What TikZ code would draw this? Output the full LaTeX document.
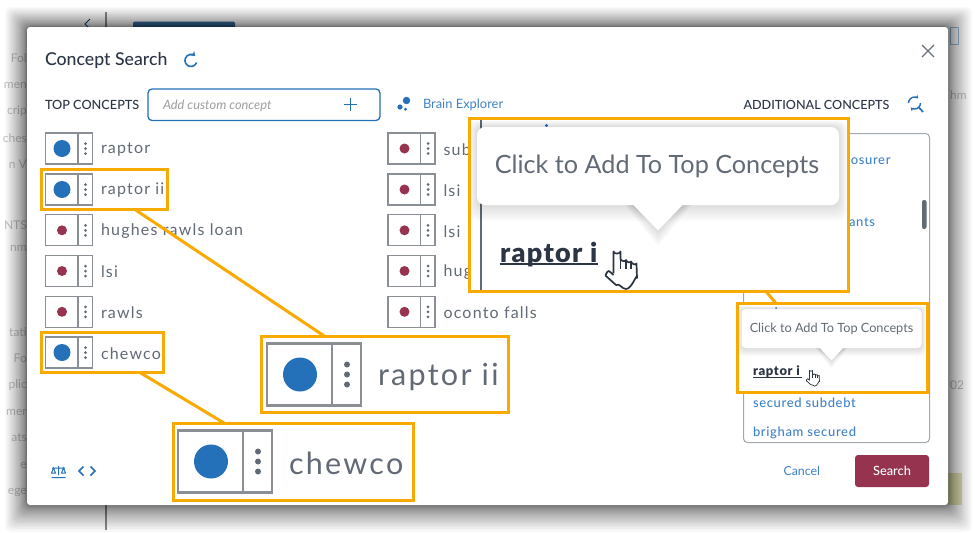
\documentclass[tikz,border=0pt]{standalone}
\usepackage{fontspec}
\setmainfont{Lato}
\newfontfamily\lblfont[LetterSpace=7.5]{Lato}
\newfontfamily\lnkfont[LetterSpace=5]{Lato Medium}
\newfontfamily\medfont{Lato Medium}
\usetikzlibrary{calc,arrows.meta}
\definecolor{cblue}{HTML}{2470B9}
\definecolor{cred}{HTML}{963450}
\definecolor{corange}{HTML}{F9AA00}
\definecolor{ctext}{HTML}{2B3544}
\definecolor{clabel}{HTML}{626A75}
\definecolor{cgrid}{HTML}{A2A8B0}
\definecolor{clink}{HTML}{3F82C6}
\tikzset{
  hlbox/.style={draw=corange,line width=3pt,inner sep=0pt,outer sep=0pt},
  hlline/.style={draw=corange,line width=3pt},
  txt/.style={inner sep=0pt,outer sep=0pt,anchor=west,text=#1},
  txt/.default=ctext,
  bgtxt/.style={inner sep=0pt,anchor=west,text=black!24,font=\fontsize{12}{14}\selectfont},
  iconline/.style={draw=cblue,line width=1.4pt}
}
% \chip{name}{left}{ycentre}{scale}{colour}{radius}{size}{text}
\newcommand{\chip}[8]{%
 \begin{scope}[shift={(#2,#3)},scale=#4]
  \draw[cgrid!85!black,line width={1.1pt*#4},fill=white] (0,-15.5) rectangle (47,15.5);
  \draw[cgrid!85!black,line width={1.1pt*#4}] (32.5,-15.5) -- (32.5,15.5);
  \fill[#5] (16.5,0) circle (#6);
  \foreach \d in {-5,0,5} \fill[clabel] (40,\d) circle (1.5);
  \node[txt=clabel,font={\lblfont\fontsize{#7}{#7}\selectfont},yshift={-1pt*#4}] (#1) at (55.5,0) {#8};
 \end{scope}}
% \bubble{cx}{top}{halfwidth}{height}{tri}{steps}
\newcommand{\bubble}[6]{%
  \foreach \i in {1,...,8}{
   \fill[black,opacity=.016,rounded corners=#6pt] ({#1-#3-\i*#6/8},{#2-\i*#6/10}) rectangle ({#1+#3+\i*#6/8},{#2+#4+\i*#6/4});
   \fill[black,opacity=.016] ({#1-#5-\i*#6/8},{#2+#4}) -- ({#1},{#2+#4+#5+\i*#6/4}) -- ({#1+#5+\i*#6/8},{#2+#4}) -- cycle;
  }
  \fill[white,rounded corners=#6pt] (#1-#3,#2) rectangle (#1+#3,#2+#4);
  \fill[white] (#1-#5,#2+#4-1) -- (#1,#2+#4+#5) -- (#1+#5,#2+#4-1) -- cycle;
}
% \hand{x}{y}{scale}
\newcommand{\hand}[3]{%
 \begin{scope}[shift={(#1,#2)},scale=#3]
  \draw[fill=white,draw=ctext,line width={1.7pt*#3},line join=round]
   (8.5,25) -- (8.5,3.5) to[out=-90,in=-90] (15.5,3.5) -- (15.5,11)
   to[out=-80,in=-100] (21,12) to[out=-80,in=-100] (26,13.5) to[out=-80,in=-110] (31.5,15.5)
   -- (32,30) to[out=90,in=0] (21,41) to[out=180,in=30] (11,37) -- (1,28)
   to[out=-130,in=-200] (4,23) -- (8.5,27);
  \draw[ctext,line width={1.3pt*#3}] (15.5,11) -- (15.5,21) (21,12) -- (21,21) (26,13.5) -- (26,21);
 \end{scope}}
\begin{document}
\begin{tikzpicture}[x=1pt,y=-1pt]
\useasboundingbox (0,0) rectangle (975,533);
\fill[white] (0,0) rectangle (975,533);
% page behind the dialog
\foreach \t/\y in {Fol/58,men/85,crip/111,ches/138,n V/164,NTS/225,nm/248,tati/332,Fo/358,plic/385,mer/412,ats/438,e/465,ege/492}
  \node[bgtxt,anchor=east] at (27,\y) {\t};
\node[bgtxt] at (950,95) {hm};
\node[bgtxt] at (950,385) {02};
\fill[cblue!80!black!85] (133,21.5) [rounded corners=2pt] rectangle (235,30);
\draw[black!45,line width=2pt] (106,12) -- (106,28) (106,505) -- (106,530);
\draw[cblue!70!black,line width=1pt] (90,19) -- (85,24) -- (90,29);
\draw[cblue!45,line width=1pt] (950,27) rectangle (958,44);
\fill[olive!22] (948,473) rectangle (962,505);
% dialog shadow
\foreach \i in {1,...,36}
  \fill[black,opacity=.024,rounded corners=6pt]
   ({27-22*pow(\i/36,2.2)},{27-20*pow(\i/36,2.2)}) rectangle ({948+24*pow(\i/36,2.2)},{505+27*pow(\i/36,2.2)});
% dialog
\fill[white,rounded corners=3pt] (27,27) rectangle (948,505);
% header
\node[txt,font={\medfont\fontsize{17.7}{20}\selectfont}] (title) at (45,60.5) {Concept Search};
\draw[iconline,line width=1.6pt,-{Stealth[length=4.5pt,width=6pt]}] ({191+5.6},{60.5+2}) arc[start angle=20,end angle=315,radius=6];
\draw[ctext!70,line width=1.3pt] (922,45) -- (934,57) (934,45) -- (922,57);
\node[txt,font={\medfont\fontsize{12.7}{14}\selectfont}] (top) at (45,105) {TOP CONCEPTS};
\draw[cblue,line width=1.3pt,rounded corners=4pt] (148,89) rectangle (380,120.5);
\node[txt=black!38,font={\itshape\fontsize{12.8}{14}\selectfont}] (add) at (163,105.5) {Add custom concept};
\draw[cblue,line width=1.4pt] (344,104.5) -- (356.5,104.5) (350.2,98) -- (350.2,111);
\fill[cblue] (400,107) circle (2.6) (406.5,100.5) circle (3.7) (405.5,109.3) circle (1.6);
\node[txt=clink,font={\fontsize{12.9}{14}\selectfont}] (brain) at (423,105) {Brain Explorer};
\node[txt,font={\medfont\fontsize{12.6}{14}\selectfont}] (addl) at (743.5,105) {ADDITIONAL CONCEPTS};
% additional-concepts refresh icon
\draw[iconline,-{Stealth[length=3.5pt,width=4.5pt]}] (908.5,103) arc[start angle=180,end angle=310,radius=6];
\draw[iconline,-{Stealth[length=3.5pt,width=4.5pt]}] (920.5,103) arc[start angle=0,end angle=130,radius=6];
\draw[iconline,line width=1.7pt] (919,107.5) -- (923,112);
% left list
\chip{r1}{45.5}{148.5}{1}{cblue}{8.5}{16}{raptor}
\chip{r2}{45.5}{189.5}{1}{cblue}{8.5}{16}{raptor ii}
\chip{r3}{45.5}{230.3}{1}{cred}{5}{16}{hughes rawls loan}
\chip{r4}{45.5}{271}{1}{cred}{5}{16}{lsi}
\chip{r5}{45.5}{311.8}{1}{cred}{5}{16}{rawls}
\chip{r6}{45.5}{352.5}{1}{cblue}{8.5}{16}{chewco}
% right list
\chip{s1}{388}{148.5}{1}{cred}{5}{16}{sub}
\chip{s2}{388}{189.5}{1}{cred}{5}{16}{lsi}
\chip{s3}{388}{230.3}{1}{cred}{5}{16}{lsi}
\chip{s4}{388}{271}{1}{cred}{5}{16}{hug}
\chip{s5}{388}{311.8}{1}{cred}{5}{16}{oconto falls}
% additional panel
\draw[cgrid,line width=1pt,rounded corners=4pt] (743.5,133.5) rectangle (929.5,442.5);
\fill[clabel,rounded corners=2pt] (922,200) rectangle (926.5,229);
\node[txt=clink,font={\lnkfont\fontsize{13}{14}\selectfont},anchor=east] (a1) at (890.5,161.5) {osurer};
\node[txt=clink,font={\lnkfont\fontsize{13}{14}\selectfont},anchor=east] (a2) at (875,222) {ants};
\node[txt=clink,font={\lnkfont\fontsize{13}{14}\selectfont}] (a3) at (753,402.5) {secured subdebt};
\node[txt=clink,font={\lnkfont\fontsize{13}{14}\selectfont}] (a4) at (753,432.5) {brigham secured};
% footer
\draw[cblue,line width=1pt] (51.5,477.5) -- (65.5,477.5) (58.5,466) -- (58.5,475) (52,468) -- (65,468)
  (53.5,468) -- (51.5,473) -- (55.5,473) -- cycle (63.5,468) -- (61.5,473) -- (65.5,473) -- cycle;
\draw[cblue,line width=1.5pt] (83.5,466.5) -- (79,471) -- (83.5,475.5) (90.5,466.5) -- (95,471) -- (90.5,475.5);
\node[txt=clink,font={\fontsize{12.4}{14}\selectfont}] (cancel) at (783.5,471) {Cancel};
\node[fill=cred,rounded corners=3pt,minimum width=74pt,minimum height=32pt,inner sep=0pt,text=white,font={\medfont\fontsize{12.8}{14}\selectfont}] (search) at (892,471) {Search};
% small tooltip box
\fill[white] (737.5,304) rectangle (928,392.5);
\fill[clink] (776,308) circle (1);
\bubble{831.5}{309}{90}{39}{12.5}{4}
\node[txt=clabel,anchor=center,font={\fontsize{12.7}{14}\selectfont}] (tipS) at (831.5,328.5) {Click to Add To Top Concepts};
\node[txt,font={\lnkfont\bfseries\fontsize{13}{13}\selectfont}] (rs) at (753,372) {raptor i};
\draw[ctext,line width=.8pt] (753,377) -- (802,377);
\hand{806}{369}{.42}
% big tooltip box
\fill[white] (469.5,118.5) rectangle (848.5,292);
\draw[clabel,line width=1.4pt] (481,118.5) -- (481,292);
\fill[cblue] (546.5,125.5) circle (1.6);
\bubble{658}{127}{181}{78}{25.5}{8}
\node[txt=clabel,anchor=center,font={\fontsize{25.2}{28}\selectfont}] (tipB) at (657,166.5) {Click to Add To Top Concepts};
\node[txt,font={\lnkfont\bfseries\fontsize{27}{28}\selectfont}] (rb) at (500,254.5) {raptor i};
\draw[ctext,line width=1.5pt] (500,264) -- (598,264);
\hand{605}{248}{1}
% magnified chips
\fill[white] (261.5,336.5) rectangle (509,412.5);
\chip{z1}{267}{374.5}{2}{cblue}{8.5}{30.5}{raptor ii}
\fill[white] (173,423) rectangle (413,500);
\chip{z2}{178}{461.5}{2}{cblue}{8.5}{30.5}{chewco}
% highlight frames
\node[hlbox,minimum width=126pt,minimum height=40.5pt] (hlA) at (104.5,189.3) {};
\node[hlbox,minimum width=122pt,minimum height=40.5pt] (hlB) at (102.5,352.3) {};
\node[hlbox,minimum width=247.5pt,minimum height=76pt] (hlC) at (385.2,374.5) {};
\node[hlbox,minimum width=240pt,minimum height=77pt] (hlD) at (293,461.5) {};
\node[hlbox,minimum width=379pt,minimum height=173.5pt] (hlE) at (659,205.2) {};
\node[hlbox,minimum width=190.5pt,minimum height=88.5pt] (hlF) at (832.7,348.2) {};
% connectors
\draw[hlline] ([xshift=93.5pt]hlA.south west) -- ([xshift=63.5pt]hlC.north west);
\draw[hlline] ([xshift=98.5pt]hlB.south west) -- ([xshift=51pt]hlD.north west);
\draw[hlline] ([xshift=297pt]hlE.south west) -- ([xshift=39pt]hlF.north west);
\end{tikzpicture}
\end{document}
